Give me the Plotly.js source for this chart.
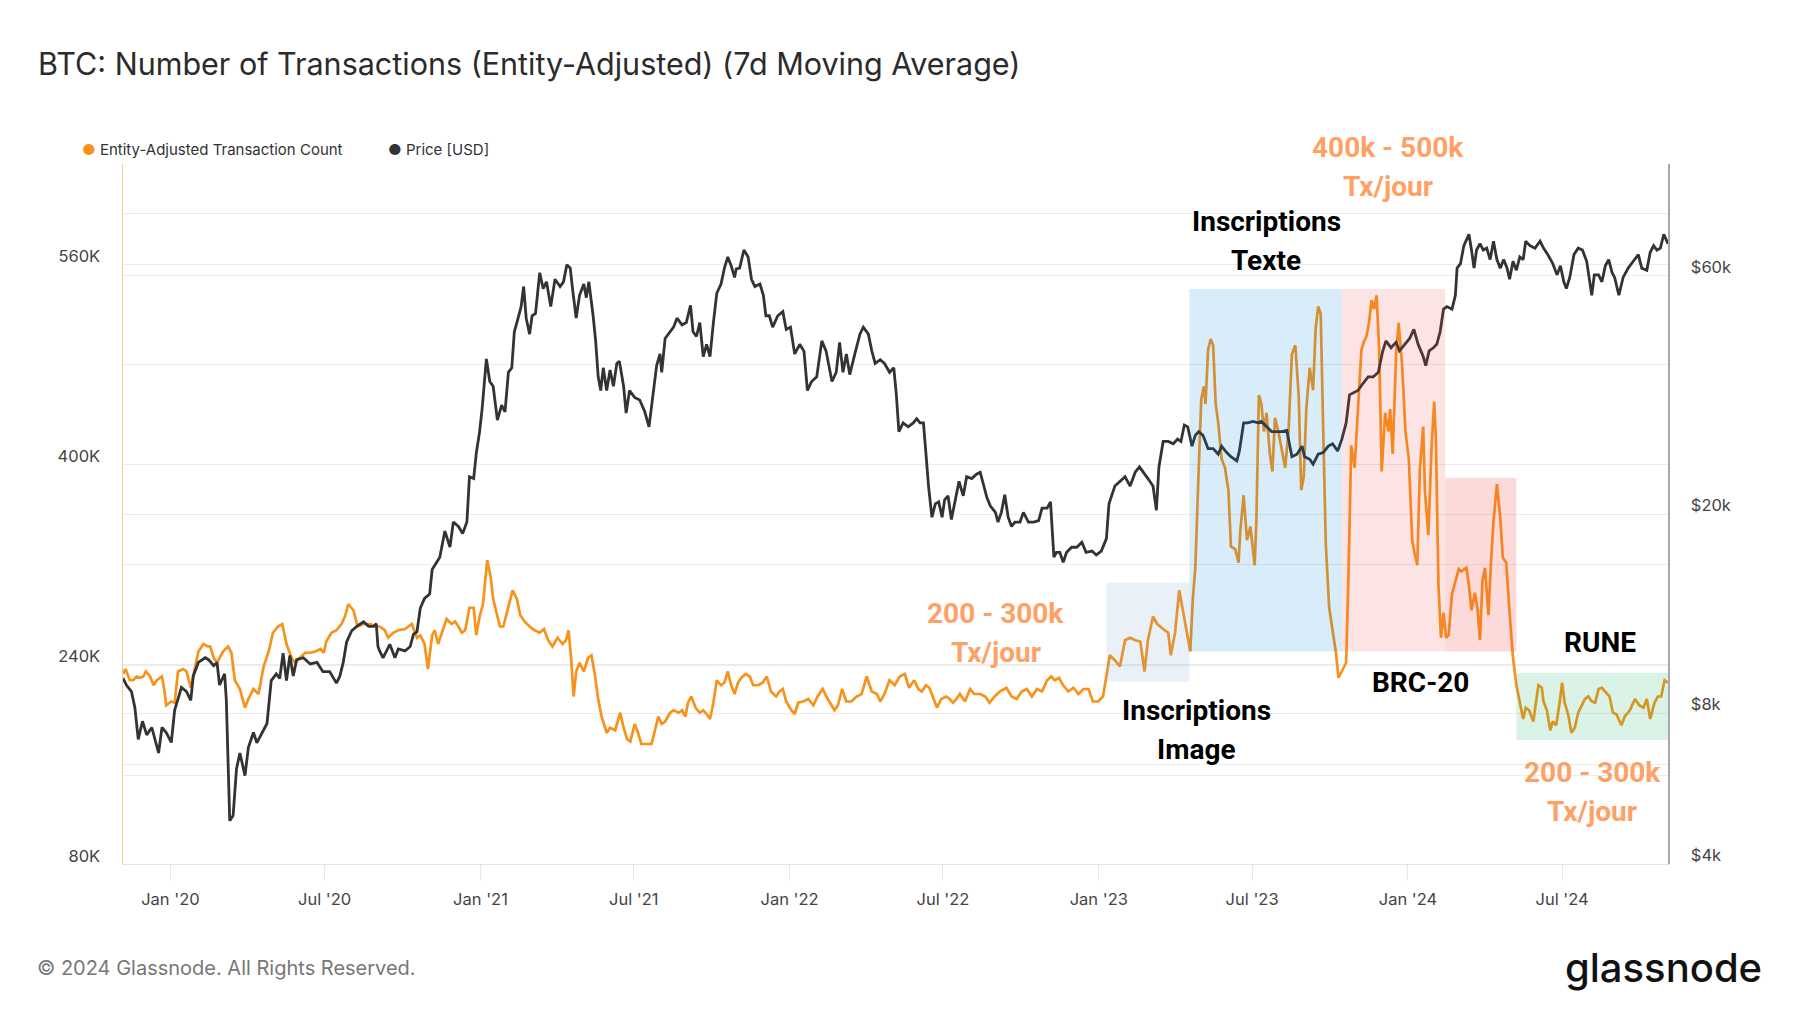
<!DOCTYPE html>
<html>
<head>
<meta charset="utf-8">
<script src="https://cdn.plot.ly/plotly-3.0.1.min.js"></script>
<style>
  html, body { margin: 0; padding: 0; background: #ffffff; }
  #chart { width: 1800px; height: 1013px; }
</style>
</head>
<body>
<div id="chart"></div>
<script>
// ---------- DATA ----------
// BTC price [USD]
const priceDates = [
'2019-11-06','2019-11-10','2019-11-16','2019-11-20','2019-11-24','2019-11-29','2019-12-04','2019-12-10','2019-12-18','2019-12-22','2019-12-27',
'2020-01-02','2020-01-06','2020-01-14','2020-01-20','2020-01-25','2020-01-28','2020-02-03','2020-02-11','2020-02-15','2020-02-21','2020-02-25','2020-02-28',
'2020-03-05','2020-03-07','2020-03-11','2020-03-15','2020-03-19','2020-03-23','2020-03-29','2020-04-02','2020-04-08','2020-04-12','2020-04-16','2020-04-24','2020-04-29',
'2020-05-05','2020-05-09','2020-05-13','2020-05-17','2020-05-21','2020-05-25','2020-05-29','2020-06-06','2020-06-14','2020-06-22','2020-06-29','2020-07-07','2020-07-15',
'2020-07-19','2020-07-23','2020-07-27','2020-08-02','2020-08-08','2020-08-16','2020-08-22','2020-08-28','2020-08-31','2020-09-02',
'2020-09-04','2020-09-08','2020-09-16','2020-09-22','2020-09-26','2020-10-04','2020-10-10','2020-10-14','2020-10-18','2020-10-22','2020-10-27','2020-11-02','2020-11-05',
'2020-11-10','2020-11-14','2020-11-20','2020-11-26','2020-11-30','2020-12-06','2020-12-11','2020-12-16','2020-12-19','2020-12-24','2020-12-27','2020-12-31',
'2021-01-03','2021-01-08','2021-01-12','2021-01-16','2021-01-21','2021-01-26','2021-01-30','2021-02-03','2021-02-07','2021-02-10','2021-02-13','2021-02-18','2021-02-21',
'2021-02-24','2021-02-28','2021-03-03','2021-03-07','2021-03-12','2021-03-16','2021-03-20','2021-03-25','2021-03-30','2021-04-05','2021-04-09','2021-04-13','2021-04-17',
'2021-04-20','2021-04-24','2021-04-28','2021-05-03','2021-05-06','2021-05-09','2021-05-14','2021-05-17','2021-05-20','2021-05-23','2021-05-26','2021-05-30','2021-06-03',
'2021-06-07','2021-06-11','2021-06-14','2021-06-19','2021-06-22','2021-06-26','2021-07-02','2021-07-08','2021-07-14','2021-07-19',
'2021-07-24','2021-07-28','2021-08-01','2021-08-03','2021-08-07','2021-08-13','2021-08-17','2021-08-21','2021-08-27','2021-09-01','2021-09-06','2021-09-09','2021-09-13',
'2021-09-17','2021-09-21','2021-09-25','2021-09-29','2021-10-03','2021-10-07','2021-10-12','2021-10-16','2021-10-20','2021-10-24','2021-10-28','2021-10-30','2021-11-03',
'2021-11-08','2021-11-13','2021-11-17','2021-11-21','2021-11-27','2021-12-01','2021-12-04','2021-12-08','2021-12-12','2021-12-18','2021-12-24','2021-12-28',
'2022-01-02','2022-01-07','2022-01-13','2022-01-18','2022-01-22','2022-01-27','2022-02-02','2022-02-08','2022-02-13','2022-02-20','2022-02-25','2022-03-01','2022-03-05',
'2022-03-09','2022-03-13','2022-03-19','2022-03-25','2022-03-29','2022-04-04','2022-04-08','2022-04-12','2022-04-18','2022-04-23','2022-04-29','2022-05-04','2022-05-07',
'2022-05-10','2022-05-15','2022-05-21',
'2022-05-27','2022-05-31','2022-06-04','2022-06-08','2022-06-11','2022-06-14','2022-06-18','2022-06-22','2022-06-26','2022-06-30','2022-07-03','2022-07-07','2022-07-11',
'2022-07-15','2022-07-20','2022-07-25','2022-07-29','2022-08-04','2022-08-10','2022-08-14','2022-08-18','2022-08-22','2022-08-26','2022-09-01','2022-09-04','2022-09-08',
'2022-09-12','2022-09-16','2022-09-20','2022-09-24','2022-09-30','2022-10-04','2022-10-10','2022-10-16','2022-10-22','2022-10-26','2022-11-01','2022-11-05','2022-11-09',
'2022-11-12','2022-11-16','2022-11-20','2022-11-24','2022-11-30','2022-12-06','2022-12-12','2022-12-17','2022-12-24','2022-12-29',
'2023-01-04','2023-01-10','2023-01-13','2023-01-20','2023-01-26','2023-02-01','2023-02-07','2023-02-13','2023-02-18','2023-02-23','2023-02-28','2023-03-06','2023-03-10',
'2023-03-13','2023-03-18','2023-03-24',
'2023-03-30','2023-04-04','2023-04-08','2023-04-12','2023-04-16','2023-04-21','2023-04-25','2023-04-29','2023-05-04','2023-05-10','2023-05-16','2023-05-22','2023-05-26',
'2023-06-01','2023-06-06','2023-06-13','2023-06-16','2023-06-21','2023-06-26','2023-07-02','2023-07-08','2023-07-12','2023-07-18','2023-07-24','2023-07-30','2023-08-05',
'2023-08-11','2023-08-17','2023-08-23','2023-08-29','2023-09-01','2023-09-07','2023-09-11','2023-09-17','2023-09-23','2023-09-29','2023-10-04','2023-10-10','2023-10-15',
'2023-10-20','2023-10-24','2023-10-28','2023-11-03','2023-11-09','2023-11-15','2023-11-21','2023-11-27','2023-12-02','2023-12-06','2023-12-12','2023-12-18','2023-12-22',
'2023-12-28','2024-01-03','2024-01-08','2024-01-13',
'2024-01-19','2024-01-22','2024-01-26','2024-01-31','2024-02-04','2024-02-08','2024-02-12','2024-02-16','2024-02-22','2024-02-26','2024-02-28','2024-03-03','2024-03-07',
'2024-03-13','2024-03-16','2024-03-19','2024-03-22','2024-03-26','2024-03-30','2024-04-03','2024-04-07','2024-04-11','2024-04-15','2024-04-19','2024-04-23','2024-04-27',
'2024-04-30','2024-05-04','2024-05-08','2024-05-12','2024-05-16','2024-05-19','2024-05-24','2024-05-30','2024-06-05','2024-06-09','2024-06-14','2024-06-20','2024-06-25',
'2024-06-29','2024-07-03','2024-07-06','2024-07-10','2024-07-15','2024-07-20','2024-07-25','2024-07-30','2024-08-05','2024-08-08','2024-08-13','2024-08-17','2024-08-21',
'2024-08-25','2024-08-29','2024-09-01','2024-09-06','2024-09-11','2024-09-17','2024-09-23','2024-09-29','2024-10-03','2024-10-09','2024-10-13','2024-10-17','2024-10-21',
'2024-10-25','2024-10-29','2024-11-01','2024-11-03'
];
const priceValues = [
9410,9120,8850,8220,7100,7720,7250,7500,6670,7500,7330,
7000,8130,9020,8850,8500,9510,10120,10340,10250,9970,10120,9120,
9600,8500,4880,5000,6200,6670,6010,6840,7330,6990,7200,7640,9310,
9600,9400,10560,9310,10450,9510,10250,10340,10050,10120,9700,9700,9200,
9500,10120,11120,11710,11950,12200,11950,11950,12100,10890,
10670,10340,11000,10340,10770,10670,10890,11530,11650,13000,13590,13860,15520,
16050,16430,18530,17220,19320,18930,18330,19320,23800,23600,26440,29300,
32570,40960,36900,36100,30900,33100,32100,38500,39300,46400,48400,52100,57150,
49400,45900,49950,50500,60900,56600,58400,52100,59100,57150,58400,63200,62200,
56000,49400,54900,57800,54300,58400,49950,44500,37700,35400,39300,35400,38900,
36100,40100,40500,36100,31900,35400,34300,33900,32100,29950,
34700,39700,41900,38500,45000,46400,47400,49400,47900,48400,52400,46400,45400,
48400,41400,43800,41400,48400,55400,57800,62200,65500,62900,59600,62000,62200,
67600,65500,59100,57150,57800,54900,49950,49950,47400,49950,50900,46900,
47400,41900,43800,42400,35400,36900,37700,44500,42500,36900,38500,44200,38500,
41900,38100,41900,45900,47400,45900,42500,40100,40800,40100,38500,39300,34700,
29300,30500,29950,
30500,31100,30500,30500,26400,22800,19750,21000,21200,19750,21400,21800,19550,
21000,23300,21800,23800,23600,24100,24300,22800,21600,20800,20200,19320,20200,
21900,19750,18930,19320,19320,20200,19320,19320,19450,20600,20600,21200,16430,
16800,16800,16050,16800,17200,17200,17600,16800,16900,16600,
16900,17900,21000,22800,23300,23800,22800,24300,24900,24300,23600,22800,20400,
24900,28000,28000,
27700,28300,28000,30200,29950,27400,28800,29300,28800,27100,27100,26400,27400,
26600,26100,25600,26800,30500,30500,30700,30500,30700,30000,29300,29300,29300,
29450,26100,26400,27400,26100,25800,25200,26400,26600,27400,27700,26800,28300,
30500,34700,35000,35400,36600,37700,37700,38500,42300,44500,43100,44200,42500,
43800,45000,46900,43800,
41400,39700,42500,43100,43800,46400,51500,52100,51500,54900,62200,63500,69000,
72700,67600,62200,67600,69600,67600,68200,64700,70400,64700,62200,64700,62200,
59100,64200,61600,65500,64700,70400,69000,68200,70400,68200,66200,63500,60300,
62900,58400,56600,59600,66200,68200,67600,64200,54900,60300,60300,58400,62900,
64700,60900,59600,54900,59600,62200,64200,66200,62200,61600,66900,69000,67600,
68200,72700,70400,69600
];

// Entity-adjusted transaction count, 7d MA (thousands)
const txDates = [
'2019-11-06','2019-11-09','2019-11-14','2019-11-18','2019-11-22','2019-11-26','2019-11-30','2019-12-03','2019-12-08','2019-12-12','2019-12-16','2019-12-22','2019-12-25','2019-12-27',
'2020-01-02','2020-01-06','2020-01-10','2020-01-16','2020-01-20','2020-01-25','2020-01-29','2020-02-03','2020-02-09','2020-02-14','2020-02-17','2020-02-21','2020-02-25',
'2020-03-03','2020-03-09','2020-03-13','2020-03-17','2020-03-23','2020-03-29','2020-04-02','2020-04-08','2020-04-14','2020-04-20','2020-04-26','2020-05-01','2020-05-07',
'2020-05-12','2020-05-17','2020-05-23','2020-05-27','2020-06-02','2020-06-08','2020-06-14','2020-06-20','2020-06-26','2020-06-30','2020-07-03','2020-07-09','2020-07-15',
'2020-07-21','2020-07-25','2020-07-29','2020-08-04','2020-08-09','2020-08-16','2020-08-24','2020-08-31',
'2020-09-04','2020-09-10','2020-09-14','2020-09-20','2020-09-26','2020-10-04','2020-10-12','2020-10-18','2020-10-22','2020-10-27','2020-10-31','2020-11-05','2020-11-08',
'2020-11-12','2020-11-18','2020-11-22','2020-11-28','2020-12-02','2020-12-06','2020-12-10','2020-12-14','2020-12-19','2020-12-24','2020-12-27','2020-12-31',
'2021-01-04','2021-01-09','2021-01-13','2021-01-16','2021-01-20','2021-01-24','2021-01-28','2021-02-03','2021-02-08','2021-02-13','2021-02-17','2021-02-22','2021-02-28',
'2021-03-06','2021-03-12','2021-03-17','2021-03-22','2021-03-27','2021-04-02','2021-04-08','2021-04-12','2021-04-15','2021-04-18','2021-04-21','2021-04-24','2021-04-28',
'2021-05-03','2021-05-08','2021-05-12','2021-05-16','2021-05-20','2021-05-24','2021-05-30','2021-06-03','2021-06-09','2021-06-15','2021-06-19','2021-06-23','2021-06-27',
'2021-07-02','2021-07-06','2021-07-10','2021-07-16',
'2021-07-22','2021-07-26','2021-07-30','2021-08-03','2021-08-07','2021-08-13','2021-08-17','2021-08-23','2021-08-27','2021-08-31','2021-09-03','2021-09-07','2021-09-12',
'2021-09-17','2021-09-21','2021-09-25','2021-09-29','2021-10-03','2021-10-07','2021-10-12','2021-10-16','2021-10-20','2021-10-24','2021-10-28','2021-11-01','2021-11-05',
'2021-11-10','2021-11-15','2021-11-19','2021-11-25','2021-11-30','2021-12-05','2021-12-10','2021-12-16','2021-12-20','2021-12-24','2021-12-28',
'2022-01-03','2022-01-07','2022-01-11','2022-01-17','2022-01-23','2022-01-29','2022-02-03','2022-02-09','2022-02-15','2022-02-23','2022-02-27','2022-03-04','2022-03-09',
'2022-03-15','2022-03-21','2022-03-27','2022-04-02','2022-04-08','2022-04-14','2022-04-18','2022-04-23','2022-04-29','2022-05-05','2022-05-11','2022-05-17','2022-05-22',
'2022-05-28','2022-06-02','2022-06-06','2022-06-11','2022-06-15','2022-06-19','2022-06-24','2022-06-29','2022-07-05','2022-07-09','2022-07-13','2022-07-17','2022-07-21',
'2022-07-27','2022-08-02','2022-08-07','2022-08-14','2022-08-20','2022-08-25','2022-08-31','2022-09-06','2022-09-14','2022-09-20','2022-09-26','2022-10-02','2022-10-08',
'2022-10-14','2022-10-20','2022-10-26','2022-11-01','2022-11-06','2022-11-10','2022-11-15','2022-11-20','2022-11-26','2022-12-02','2022-12-08','2022-12-14','2022-12-20',
'2022-12-25','2022-12-31',
'2023-01-06','2023-01-10','2023-01-14','2023-01-20','2023-01-26','2023-02-01','2023-02-07','2023-02-13','2023-02-19','2023-02-24','2023-02-28','2023-03-06','2023-03-11',
'2023-03-18','2023-03-24',
'2023-03-27','2023-04-01','2023-04-06','2023-04-11','2023-04-16','2023-04-19','2023-04-22','2023-04-25','2023-04-29','2023-05-02','2023-05-05','2023-05-07','2023-05-10',
'2023-05-13','2023-05-16','2023-05-19','2023-05-22','2023-05-26','2023-05-30','2023-06-03','2023-06-06','2023-06-11','2023-06-15','2023-06-17','2023-06-21','2023-06-25',
'2023-06-29','2023-07-04','2023-07-06','2023-07-09','2023-07-12','2023-07-15','2023-07-18','2023-07-22','2023-07-25','2023-07-28','2023-08-01','2023-08-05','2023-08-09',
'2023-08-13','2023-08-17','2023-08-21','2023-08-25','2023-08-28','2023-08-31','2023-09-03','2023-09-07','2023-09-11','2023-09-14','2023-09-17','2023-09-20','2023-09-23',
'2023-09-26','2023-09-30','2023-10-04','2023-10-08','2023-10-11','2023-10-16','2023-10-20','2023-10-23','2023-10-26','2023-10-30','2023-11-04','2023-11-07','2023-11-10',
'2023-11-13','2023-11-16','2023-11-19','2023-11-22','2023-11-25','2023-11-28','2023-12-01','2023-12-05','2023-12-09','2023-12-11','2023-12-14','2023-12-18','2023-12-21',
'2023-12-25','2023-12-29','2024-01-02','2024-01-06','2024-01-09','2024-01-12',
'2024-01-15','2024-01-19','2024-01-21','2024-01-25','2024-01-29','2024-02-01','2024-02-03','2024-02-06','2024-02-09','2024-02-12','2024-02-15','2024-02-18','2024-02-22',
'2024-02-26','2024-03-01','2024-03-04','2024-03-10','2024-03-13','2024-03-16','2024-03-20','2024-03-23','2024-03-26','2024-03-29','2024-04-01','2024-04-05','2024-04-08',
'2024-04-11','2024-04-15','2024-04-19','2024-04-22','2024-04-26','2024-04-30','2024-05-04','2024-05-08','2024-05-12','2024-05-16','2024-05-19','2024-05-23','2024-05-28',
'2024-05-31','2024-06-03','2024-06-07','2024-06-09','2024-06-13','2024-06-17','2024-06-20','2024-06-24','2024-06-28','2024-07-01','2024-07-04','2024-07-08','2024-07-12',
'2024-07-16','2024-07-20','2024-07-24','2024-07-28','2024-08-01','2024-08-05','2024-08-09','2024-08-13','2024-08-17','2024-08-21','2024-08-26','2024-08-30','2024-09-03',
'2024-09-09','2024-09-13','2024-09-19','2024-09-25','2024-09-30','2024-10-05','2024-10-09','2024-10-13','2024-10-18','2024-10-22','2024-10-26','2024-10-30','2024-11-03'
];
const txValues = [
232,236,227,227,230,229,230,234,230,223,227,230,218,207,
210,209,234,236,234,221,234,250,256,254,254,245,241,
250,254,249,227,220,205,212,220,216,238,250,265,270,
272,256,245,241,245,249,249,250,252,249,258,265,267,
272,278,288,283,270,272,272,270,
270,267,261,265,267,268,272,261,263,256,236,263,267,
256,267,276,272,274,270,265,267,285,285,263,278,
288,323,310,292,281,270,270,285,299,292,279,274,270,
267,265,268,259,254,261,256,259,267,245,214,234,241,
234,245,247,232,212,198,185,189,187,201,189,180,178,
192,185,176,176,
176,187,198,192,194,201,203,201,203,198,209,214,205,
201,203,200,196,209,227,223,225,234,223,216,225,229,
232,230,223,223,225,230,218,214,218,220,210,
203,200,209,210,212,207,214,220,212,203,207,220,210,
210,214,216,230,218,216,210,216,227,223,230,232,221,
227,220,218,223,221,214,205,212,214,212,209,212,216,
210,220,216,216,214,209,214,218,221,214,212,218,220,
214,220,218,227,230,227,229,223,218,221,216,220,220,
210,210,
214,232,247,243,238,259,261,259,258,234,259,278,272,
268,265,
247,265,299,281,263,250,292,317,397,452,462,448,491,
500,495,448,433,404,397,379,334,332,321,346,375,339,
350,319,354,455,448,426,441,408,394,437,426,412,397,
426,488,495,455,379,390,444,477,459,508,526,520,426,
336,285,267,249,229,236,241,317,415,397,455,491,498,
502,513,531,524,535,491,394,441,426,444,408,488,513,
480,426,404,339,328,319,
395,430,379,343,415,450,419,303,261,281,261,263,296,
307,316,314,317,303,283,297,285,259,307,317,279,321,
354,384,357,325,321,281,245,223,209,196,205,203,194,
209,223,221,210,203,187,194,191,209,225,209,200,185,
189,201,207,212,214,210,209,220,221,218,214,201,200,
191,198,203,212,207,205,212,196,209,214,214,227,225
];

// Axis ticks
const txTickVals = [80,160,240,320,400,480,560,640];
const txTickText = ['80K','','240K','','400K','','560K',''];
const priceTickVals = [4000,6000,8000,10000,20000,40000,60000,80000];
const priceTickText = ['$4k','','$8k','','$20k','','$60k',''];

// Highlighted periods
const periodStart = ['2023-01-10','2023-04-18','2023-10-15','2024-02-14','2024-05-08'];
const periodEnd   = ['2023-04-18','2023-10-15','2024-02-14','2024-05-08','2024-11-03'];
const periodLow   = [226,250,250,250,179];
const periodHigh  = [305,540,540,389,233];
const periodFill  = ['rgba(108,155,208,0.15)','rgba(0,128,215,0.15)','rgba(242,75,75,0.15)','rgba(240,70,70,0.2)','rgba(8,175,88,0.15)'];

// ---------- CHART ----------
const ORANGE = '#F7931A';
const DARK = '#333333';
const FONT = 'Inter, "Noto Sans", sans-serif';
const BOLD = 'Roboto, "Noto Sans", sans-serif';

const traces = [
  { x: txDates, y: txValues, type: 'scatter', mode: 'lines', name: 'Entity-Adjusted Transaction Count',
    line: { color: ORANGE, width: 2.7 }, yaxis: 'y', showlegend: false },
  { x: priceDates, y: priceValues, type: 'scatter', mode: 'lines', name: 'Price [USD]',
    line: { color: DARK, width: 2.8 }, yaxis: 'y2', showlegend: false }
];

const shapes = periodStart.map((s, i) => ({
  type: 'rect', xref: 'x', yref: 'y', x0: s, x1: periodEnd[i], y0: periodLow[i], y1: periodHigh[i],
  fillcolor: periodFill[i], line: { width: 0 }, layer: 'above'
}));

const pxX = x => (x - 123) / 1545;
const pxY = y => (864 - y) / 700;
const SALMON = '#FFA066';
function lab(text, x, y, color) {
  return { text: text, xref: 'paper', yref: 'paper', x: pxX(x), y: pxY(y), xanchor: 'center', yanchor: 'middle',
    showarrow: false, font: { family: BOLD, size: 28, color: color, weight: 700 } };
}
const annotations = [
  lab('400k - 500k', 1388, 148, SALMON),
  lab('Tx/jour', 1388, 187, SALMON),
  lab('Inscriptions', 1266, 221, '#000'),
  lab('Texte', 1266, 260, '#000'),
  lab('200 - 300k', 996, 613, SALMON),
  lab('Tx/jour', 996, 652, SALMON),
  lab('Inscriptions', 1196, 710, '#000'),
  lab('Image', 1196, 749, '#000'),
  lab('BRC-20', 1420, 682, '#000'),
  lab('RUNE', 1600, 642, '#000'),
  lab('200 - 300k', 1592, 772, SALMON),
  lab('Tx/jour', 1592, 811, SALMON),
  { text: '<span style="color:' + ORANGE + '">●</span> Entity-Adjusted Transaction Count', xref: 'paper', yref: 'paper',
    x: pxX(80), y: pxY(149), xanchor: 'left', yanchor: 'middle', showarrow: false, font: { family: FONT, size: 15, color: '#333' } },
  { text: '<span style="color:' + DARK + '">●</span> Price [USD]', xref: 'paper', yref: 'paper',
    x: pxX(386), y: pxY(149), xanchor: 'left', yanchor: 'middle', showarrow: false, font: { family: FONT, size: 15, color: '#333' } },
  { text: '© 2024 Glassnode. All Rights Reserved.', xref: 'paper', yref: 'paper',
    x: pxX(35), y: pxY(968), xanchor: 'left', yanchor: 'middle', showarrow: false, font: { family: FONT, size: 20, color: '#777' } },
  { text: 'glassnode', xref: 'paper', yref: 'paper',
    x: pxX(1764), y: pxY(967), xanchor: 'right', yanchor: 'middle', showarrow: false, font: { family: FONT, size: 40, color: '#111', weight: 500 } }
];

const layout = {
  width: 1800, height: 1013,
  paper_bgcolor: '#ffffff', plot_bgcolor: '#ffffff',
  margin: { l: 123, r: 132, t: 164, b: 149 },
  font: { family: FONT, color: '#444' },
  title: { text: 'BTC: Number of Transactions (Entity-Adjusted) (7d Moving Average)',
    x: 38 / 1800, xanchor: 'left', xref: 'container', y: 1 - 64 / 1013, yanchor: 'middle', yref: 'container',
    font: { family: FONT, size: 30.5, color: '#2b2b2b' } },
  showlegend: false,
  xaxis: {
    type: 'date', range: ['2019-11-06', '2024-11-03'],
    tick0: '2020-01-01', dtick: 'M6', tickformat: "%b '%y",
    showgrid: false, zeroline: false,
    ticks: 'outside', ticklen: 16, tickcolor: '#e8e8e8', tickwidth: 1,
    showline: true, linecolor: '#e3e3e3', linewidth: 1,
    tickfont: { family: FONT, size: 16.5, color: '#444' }, ticklabelstandoff: 4
  },
  yaxis: {
    range: [80, 640], tickmode: 'array', tickvals: txTickVals, ticktext: txTickText,
    showgrid: true, gridcolor: '#ececec', gridwidth: 1, zeroline: false,
    showline: true, linecolor: '#fcc992', linewidth: 1.5, ticks: '',
    tickfont: { family: FONT, size: 16.5, color: '#444' }, ticklabelstandoff: 18, ticklabelshift: -8
  },
  yaxis2: {
    type: 'log', range: [Math.log10(4000), Math.log10(4000) + 1.4], overlaying: 'y', side: 'right',
    tickmode: 'array', tickvals: priceTickVals, ticktext: priceTickText,
    showgrid: true, gridcolor: '#ececec', gridwidth: 1, zeroline: false,
    showline: true, linecolor: '#a8a8a8', linewidth: 1.5, ticks: '',
    tickfont: { family: FONT, size: 16.5, color: '#444' }, ticklabelstandoff: 18, ticklabelshift: -9
  },
  shapes: shapes,
  annotations: annotations
};

Plotly.newPlot('chart', traces, layout, { staticPlot: true, displayModeBar: false });
</script>
</body>
</html>
